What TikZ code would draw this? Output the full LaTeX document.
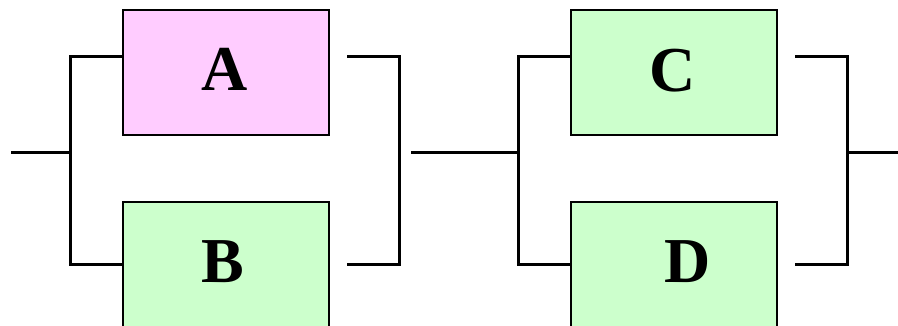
\documentclass[tikz,border=0pt]{standalone}
\usepackage{fontspec}
\setmainfont{Liberation Serif}
\begin{document}
\begin{tikzpicture}[x=1pt,y=-1pt,
  blk/.style={draw=black,line width=2.8pt,minimum width=206pt,minimum height=125pt,inner sep=0pt,outer sep=0pt,anchor=north west},
  lettr/.style={font=\fontsize{64}{64}\selectfont\bfseries,anchor=base,inner sep=0pt},
  wire/.style={line width=3pt,line cap=butt}]
\definecolor{pinkfill}{HTML}{FFCCFF}
\definecolor{greenfill}{HTML}{CCFFCC}
\useasboundingbox (0,0) rectangle (898,326);
\clip (0,0) rectangle (898,326);
% boxes
\node[blk,fill=pinkfill] (A) at (123,10) {};
\node[blk,fill=greenfill] (B) at (123,202) {};
\node[blk,fill=greenfill] (C) at (571,10) {};
\node[blk,fill=greenfill] (D) at (571,202) {};
\node[lettr] (tA) at (225,91) {A};
\node[lettr] (tB) at (223,282) {B};
\node[lettr] (tC) at (673,92) {C};
\node[lettr] (tD) at (688,283) {D};
% junction points
\coordinate (in) at (11,153);
\coordinate (j1) at (70,153);
\coordinate (j1t) at (70,57);
\coordinate (j1b) at (70,265);
\coordinate (a1) at (123,57);
\coordinate (b1) at (123,265);
\coordinate (a2) at (347,57);
\coordinate (b2) at (347,265);
\coordinate (k1t) at (399,57);
\coordinate (k1b) at (399,265);
\coordinate (m1) at (411,153);
\coordinate (j2) at (518,153);
\coordinate (j2t) at (518,57);
\coordinate (j2b) at (518,265);
\coordinate (c1) at (571,57);
\coordinate (d1) at (571,265);
\coordinate (c2) at (795,57);
\coordinate (d2) at (795,265);
\coordinate (k2t) at (847,57);
\coordinate (k2b) at (847,265);
\coordinate (k2) at (847,153);
\coordinate (out) at (898,153);
% wires
\draw[wire] (in) -- (j1);
\draw[wire] (a1) -- (j1t) -- (j1b) -- (b1);
\draw[wire] (a2) -- (k1t) -- (k1b) -- (b2);
\draw[wire] (m1) -- (j2);
\draw[wire] (c1) -- (j2t) -- (j2b) -- (d1);
\draw[wire] (c2) -- (k2t) -- (k2b) -- (d2);
\draw[wire] (k2) -- (out);
\end{tikzpicture}
\end{document}
